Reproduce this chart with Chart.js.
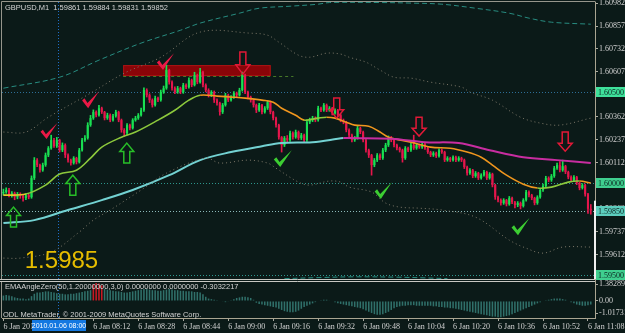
<!DOCTYPE html>
<html><head><meta charset="utf-8">
<script src="https://cdn.jsdelivr.net/npm/chart.js@4.4.1/dist/chart.umd.min.js"></script>
<style>html,body{margin:0;padding:0;background:#0b1a18;}canvas{display:block;}</style>
</head><body>
<canvas id="c" width="625" height="333" style="width:625px;height:333px"></canvas>
<script>
// ---------------- DATA ----------------
const symbolTitle = 'GBPUSD,M1  1.59861 1.59884 1.59831 1.59852';
const indicatorTitle = 'EMAAngleZero(50,1.20000000,3,0) 0.0000000 0.0000000 -0.3032217';
const copyrightText = 'ODL MetaTrader, \u00A9 2001-2009 MetaQuotes Software Corp.';
const bigLabel = '1.5985';
const firstOpen = 1.59946;
const closes = [
1.59952,1.59963,1.59935,1.59946,1.59924,1.59941,1.59930,1.59919,1.59935,1.59924,
1.60028,1.60126,1.60099,1.60071,1.60099,1.60153,1.60191,1.60235,1.60202,1.60235,
1.60180,1.60208,1.60153,1.60126,1.60110,1.60137,1.60115,1.60180,1.60235,1.60246,
1.60317,1.60355,1.60388,1.60371,1.60409,1.60388,1.60355,1.60371,1.60344,1.60366,
1.60388,1.60344,1.60290,1.60273,1.60317,1.60300,1.60344,1.60355,1.60371,1.60398,
1.60508,1.60480,1.60453,1.60426,1.60464,1.60453,1.60497,1.60518,1.60617,1.60551,
1.60518,1.60497,1.60518,1.60497,1.60535,1.60524,1.60562,1.60535,1.60589,1.60551,
1.60606,1.60535,1.60508,1.60480,1.60497,1.60453,1.60437,1.60388,1.60426,1.60480,
1.60453,1.60469,1.60491,1.60480,1.60508,1.60589,1.60497,1.60469,1.60453,1.60426,
1.60398,1.60426,1.60388,1.60409,1.60442,1.60388,1.60355,1.60317,1.60251,1.60208,
1.60246,1.60235,1.60273,1.60251,1.60279,1.60246,1.60262,1.60235,1.60333,1.60344,
1.60355,1.60344,1.60409,1.60398,1.60426,1.60398,1.60409,1.60382,1.60398,1.60371,
1.60344,1.60333,1.60290,1.60262,1.60235,1.60246,1.60300,1.60279,1.60235,1.60180,
1.60153,1.60099,1.60126,1.60153,1.60137,1.60180,1.60208,1.60246,1.60235,1.60208,
1.60191,1.60180,1.60137,1.60191,1.60180,1.60208,1.60191,1.60208,1.60197,1.60213,
1.60191,1.60170,1.60153,1.60164,1.60148,1.60180,1.60170,1.60126,1.60137,1.60126,
1.60142,1.60126,1.60137,1.60126,1.60088,1.60055,1.60071,1.60039,1.60055,1.60028,
1.60044,1.60061,1.60028,1.60050,1.59990,1.59924,1.59908,1.59892,1.59908,1.59886,
1.59919,1.59897,1.59881,1.59892,1.59876,1.59908,1.59952,1.59935,1.59919,1.59892,
1.59924,1.59963,1.59985,1.60028,1.60017,1.60039,1.60082,1.60099,1.60071,1.60093,
1.60061,1.60033,1.60017,1.60033,1.60001,1.59974,1.59990,1.59940,1.59861,1.59852];
const highs = [
1.59968,1.59975,1.59972,1.59955,1.59952,1.59950,1.59948,1.59936,1.59944,1.59940,
1.60040,1.60140,1.60135,1.60105,1.60110,1.60165,1.60200,1.60262,1.60245,1.60250,
1.60240,1.60220,1.60215,1.60160,1.60132,1.60145,1.60142,1.60190,1.60245,1.60260,
1.60330,1.60370,1.60400,1.60395,1.60425,1.60415,1.60392,1.60382,1.60378,1.60375,
1.60398,1.60393,1.60350,1.60298,1.60325,1.60322,1.60352,1.60365,1.60380,1.60410,
1.60520,1.60515,1.60488,1.60460,1.60475,1.60470,1.60508,1.60530,1.60644,1.60622,
1.60558,1.60525,1.60528,1.60524,1.60545,1.60542,1.60575,1.60568,1.60605,1.60595,
1.60627,1.60612,1.60542,1.60515,1.60505,1.60503,1.60460,1.60442,1.60435,1.60490,
1.60486,1.60478,1.60500,1.60497,1.60518,1.60606,1.60595,1.60503,1.60475,1.60458,
1.60432,1.60435,1.60430,1.60418,1.60450,1.60448,1.60393,1.60360,1.60322,1.60255,
1.60255,1.60260,1.60285,1.60280,1.60290,1.60285,1.60272,1.60268,1.60345,1.60355,
1.60365,1.60362,1.60420,1.60415,1.60435,1.60432,1.60418,1.60414,1.60406,1.60403,
1.60378,1.60350,1.60338,1.60296,1.60268,1.60255,1.60310,1.60306,1.60284,1.60240,
1.60186,1.60158,1.60135,1.60162,1.60160,1.60190,1.60218,1.60258,1.60255,1.60240,
1.60214,1.60197,1.60186,1.60200,1.60197,1.60218,1.60262,1.60216,1.60214,1.60222,
1.60218,1.60196,1.60175,1.60172,1.60170,1.60188,1.60186,1.60175,1.60145,1.60142,
1.60150,1.60148,1.60145,1.60142,1.60132,1.60093,1.60080,1.60076,1.60064,1.60060,
1.60052,1.60070,1.60066,1.60058,1.60055,1.59995,1.59930,1.59915,1.59916,1.59912,
1.59928,1.59925,1.59902,1.59900,1.59898,1.59916,1.59962,1.59958,1.59940,1.59924,
1.59932,1.59972,1.59995,1.60038,1.60035,1.60048,1.60092,1.60110,1.60118,1.60126,
1.60098,1.60066,1.60040,1.60042,1.60038,1.60006,1.59998,1.59995,1.59945,1.59884];
const lows = [
1.59935,1.59945,1.59925,1.59924,1.59910,1.59915,1.59918,1.59902,1.59910,1.59915,
1.59918,1.60020,1.60090,1.60060,1.60065,1.60092,1.60145,1.60185,1.60195,1.60195,
1.60170,1.60172,1.60140,1.60115,1.60099,1.60104,1.60105,1.60110,1.60175,1.60228,
1.60240,1.60310,1.60348,1.60362,1.60365,1.60380,1.60345,1.60348,1.60335,1.60338,
1.60360,1.60335,1.60278,1.60255,1.60265,1.60290,1.60295,1.60338,1.60348,1.60365,
1.60392,1.60470,1.60440,1.60415,1.60420,1.60445,1.60447,1.60490,1.60512,1.60540,
1.60508,1.60488,1.60490,1.60488,1.60490,1.60515,1.60518,1.60526,1.60530,1.60542,
1.60545,1.60525,1.60498,1.60470,1.60472,1.60440,1.60425,1.60371,1.60380,1.60420,
1.60445,1.60447,1.60462,1.60472,1.60475,1.60502,1.60488,1.60460,1.60442,1.60415,
1.60385,1.60392,1.60378,1.60382,1.60402,1.60378,1.60345,1.60305,1.60240,1.60170,
1.60200,1.60225,1.60228,1.60240,1.60245,1.60238,1.60238,1.60225,1.60228,1.60325,
1.60336,1.60335,1.60338,1.60390,1.60392,1.60390,1.60392,1.60372,1.60376,1.60362,
1.60335,1.60324,1.60280,1.60252,1.60225,1.60228,1.60240,1.60270,1.60225,1.60170,
1.60140,1.60044,1.60090,1.60118,1.60128,1.60130,1.60172,1.60200,1.60226,1.60198,
1.60182,1.60170,1.60115,1.60130,1.60172,1.60174,1.60184,1.60185,1.60190,1.60190,
1.60184,1.60162,1.60145,1.60146,1.60140,1.60142,1.60162,1.60118,1.60120,1.60118,
1.60120,1.60118,1.60120,1.60118,1.60080,1.60044,1.60048,1.60030,1.60032,1.60020,
1.60022,1.60038,1.60020,1.60022,1.59980,1.59912,1.59898,1.59880,1.59885,1.59876,
1.59880,1.59888,1.59866,1.59872,1.59860,1.59870,1.59902,1.59926,1.59910,1.59882,
1.59885,1.59918,1.59956,1.59978,1.60008,1.60010,1.60032,1.60075,1.60062,1.60065,
1.60052,1.60024,1.60008,1.60010,1.59992,1.59964,1.59968,1.59930,1.59835,1.59831];
const angleValues = [
0.45,0.5,0.45,0.4,0.3,0.25,0.2,0.2,0.15,0.2,
0.4,0.6,0.7,0.7,0.75,0.8,0.8,0.75,0.7,0.65,
0.6,0.6,0.55,0.55,0.6,0.6,0.65,0.7,0.75,0.8,
0.85,0.9,1.4,1.5,1.45,1.3,1.0,0.95,0.9,0.85,
0.8,0.8,0.75,0.7,0.7,0.75,0.8,0.85,0.9,0.95,
1.0,1.0,0.95,0.9,0.9,0.85,0.85,0.9,0.95,1.0,
0.95,0.9,0.9,0.85,0.85,0.8,0.8,0.8,0.75,0.75,
0.7,0.55,0.35,0.2,0.15,0.1,0.05,0.0,-0.05,-0.1,
-0.05,0.05,0.15,0.25,0.3,0.35,0.35,0.3,0.25,0.1,
-0.15,-0.25,-0.3,-0.35,-0.4,-0.45,-0.5,-0.55,-0.65,-0.75,
-0.85,-0.9,-0.95,-0.95,-0.9,-0.8,-0.65,-0.5,-0.4,-0.3,
-0.2,-0.1,0.0,0.05,0.1,0.1,0.05,0.0,-0.1,-0.2,
-0.25,-0.3,-0.35,-0.4,-0.45,-0.5,-0.55,-0.6,-0.7,-0.8,
-0.9,-1.0,-1.1,-1.15,-1.15,-1.1,-1.0,-0.9,-0.75,-0.6,
-0.5,-0.45,-0.4,-0.4,-0.35,-0.35,-0.35,-0.4,-0.4,-0.4,
-0.4,-0.4,-0.4,-0.45,-0.45,-0.5,-0.5,-0.55,-0.55,-0.6,
-0.6,-0.65,-0.7,-0.75,-0.8,-0.85,-0.9,-0.95,-1.0,-1.05,
-1.1,-1.15,-1.2,-1.25,-1.3,-1.3,-1.35,-1.35,-1.3,-1.25,
-1.2,-1.1,-1.0,-0.9,-0.8,-0.7,-0.6,-0.5,-0.4,-0.3,
-0.2,-0.1,0.0,0.05,0.1,0.15,0.2,0.2,0.2,0.15,
0.1,0.0,-0.1,-0.2,-0.3,-0.35,-0.4,-0.4,-0.35,-0.3];
const angleThreshold = 1.2;

const emaFastIdx = [0,8,15,20,26,31,35,42,47,55,61,66,70,76,82,86,92,96,99,104,107,112,115,118,122,125,130,134,137,145,152,159,165,170,174,179,185,190,195,201,205,209];
const emaFastVal = [1.59935,1.59941,1.59990,1.60050,1.60071,1.60137,1.60197,1.60251,1.60279,1.60344,1.60398,1.60453,1.60480,1.60475,1.60469,1.60464,1.60453,1.60442,1.60409,1.60371,1.60344,1.60355,1.60360,1.60355,1.60333,1.60317,1.60311,1.60279,1.60251,1.60224,1.60197,1.60191,1.60170,1.60142,1.60099,1.60044,1.59995,1.59974,1.59979,1.60006,1.60012,1.60001];
const emaSlowIdx = [0,11,23,35,46,59,70,81,92,99,110,121,123,138,150,162,173,185,197,209];
const emaSlowVal = [1.59783,1.59799,1.59854,1.59908,1.59963,1.60044,1.60126,1.60170,1.60202,1.60219,1.60224,1.60246,1.60246,1.60243,1.60224,1.60219,1.60180,1.60142,1.60126,1.60110];
const outerUpIdx = [0,20,34,49,63,70,84,91,102,112,116,134,145,156,168,180,187,195,209];
const outerUpVal = [1.60518,1.60578,1.60671,1.60764,1.60834,1.60873,1.60927,1.60954,1.60965,1.60976,1.60985,1.60985,1.60982,1.60976,1.60954,1.60927,1.60900,1.60878,1.60867];
const innerUpIdx = [0,8,16,31,43,56,70,88,94,98,105,109,115,120,123,129,134,139,145,152,163,166,174,184,191,198,209];
const innerUpVal = [1.60279,1.60279,1.60360,1.60491,1.60600,1.60687,1.60824,1.60818,1.60807,1.60769,1.60698,1.60687,1.60709,1.60704,1.60687,1.60660,1.60617,1.60578,1.60573,1.60551,1.60524,1.60497,1.60453,1.60360,1.60328,1.60317,1.60355];
const innerLoIdx = [0,6,17,27,32,38,49,58,72,77,87,94,97,105,109,116,120,123,131,136,141,148,156,168,180,186,192,199,209];
const innerLoVal = [1.59592,1.59592,1.59625,1.59734,1.59799,1.59854,1.59963,1.60055,1.60137,1.60110,1.60126,1.60110,1.60082,1.60006,1.59990,1.60012,1.60006,1.59979,1.59952,1.59892,1.59870,1.59864,1.59854,1.59815,1.59690,1.59646,1.59619,1.59652,1.59652];
const outerLoIdx = [100,113,125,140,150,158];
const outerLoVal = [1.59480,1.59486,1.59490,1.59488,1.59484,1.59480];

const priceTicks = [1.60982,1.60857,1.60732,1.60607,1.60482,1.60362,1.60237,1.60112,1.59987,1.59862,1.59737,1.59612,1.59487];
const angleTicks = [1.382898,0,-1.017313];
const angleTickLabels = ['1.382898','0.00','-1.017313'];
const timeTickIdx = [0,32,48,64,80,96,112,128,144,160,176,192,208];
const timeTickLabels = ['6 Jan 2010','6 Jan 08:12','6 Jan 08:28','6 Jan 08:44','6 Jan 09:00','6 Jan 09:16','6 Jan 09:32','6 Jan 09:48','6 Jan 10:04','6 Jan 10:20','6 Jan 10:36','6 Jan 10:52','6 Jan 11:08'];
const crossIdx = 20;
const crossLabel = '2010.01.06 08:00';
const hLevels = [1.60500,1.60000,1.59850,1.59500];
const hLevelLabels = ['1.60500','1.60000','1.59850','1.59500'];

// drawn objects (bar index, price)
const zoneFrom = 42.6, zoneTo = 95.1, zoneTop = 1.60644, zoneBottom = 1.60584;
const zoneLineTo = 103.2, zoneLinePrice = 1.60587;
const downArrowIdx = [85.2,118.6,147.9,199.9];
const downArrowTop = [1.60715,1.60464,1.60360,1.60279];
const downArrowTip = [1.60595,1.60355,1.60257,1.60175];
const upArrowIdx = [3.6,24.7,43.9];
const upArrowTip = [1.59870,1.60044,1.60219];
const upArrowBase = [1.59761,1.59935,1.60110];
const redCheckFrom = [13.2,28,54.6], redCheckTo = [19.2,34,60.7];
const redCheckTop = [1.60328,1.60502,1.60709], redCheckBottom = [1.60241,1.60409,1.60617];
const greenCheckFrom = [96.2,132.1,180.8], greenCheckTo = [102.6,138.2,187.2];
const greenCheckTop = [1.60180,1.60006,1.59810], greenCheckBottom = [1.60088,1.59914,1.59717];
const bigLabelIdx = 7.6, bigLabelPrice = 1.59537;
const whiteBarTop = 1.59905;

// ---------------- BUILD ----------------
const NCAT = 211;
const categories = [];
for (let m = 0; m < NCAT; m++) { const t = 7*60 + 40 + m; categories.push(String(Math.floor(t/60)).padStart(2,'0') + ':' + String(t%60).padStart(2,'0')); }
const opens = closes.map((c, i) => i === 0 ? firstOpen : closes[i-1]);
const bodies = closes.map((c, i) => [opens[i], c]);
const wicks = closes.map((c, i) => [lows[i], highs[i]]);
function pts(idx, vals) { return idx.map((k, j) => ({ x: categories[k], y: vals[j] })); }

const BG = '#0b1a18';
const UP = '#19e052', DN = '#e5164c';
const candleColor = ctx => { const i = ctx.dataIndex; return closes[i] >= opens[i] ? UP : DN; };

const lineBase = { type: 'line', yAxisID: 'y', pointRadius: 0, tension: 0.35, order: 0 };

const overlay = {
  id: 'overlay',
  beforeDraw(chart) { const c = chart.ctx; c.save(); c.fillStyle = BG; c.fillRect(0, 0, chart.width, chart.height); c.restore(); },
  beforeDatasetsDraw(chart) {
    const {ctx, scales: {x, y, y2}} = chart;
    ctx.save();
    const rx0 = x.getPixelForValue(zoneFrom), rx1 = x.getPixelForValue(zoneTo);
    const ry0 = y.getPixelForValue(zoneTop), ry1 = y.getPixelForValue(zoneBottom);
    ctx.fillStyle = 'rgb(138,4,8)';
    ctx.fillRect(rx0, ry0, rx1 - rx0, ry1 - ry0);
    ctx.strokeStyle = 'rgb(170,20,20)'; ctx.lineWidth = 1;
    ctx.strokeRect(rx0 + 0.5, ry0 + 0.5, rx1 - rx0 - 1, ry1 - ry0 - 1);
    ctx.strokeStyle = 'rgb(70,120,40)'; ctx.setLineDash([3, 3]);
    const zy = Math.round(y.getPixelForValue(zoneLinePrice)) + 0.5;
    ctx.beginPath(); ctx.moveTo(rx0, zy); ctx.lineTo(x.getPixelForValue(zoneLineTo), zy); ctx.stroke();
    const lvlColors = ['rgb(45,110,150)', 'rgb(45,150,140)', 'rgb(140,185,185)', 'rgb(45,150,140)'];
    hLevels.forEach((v, k) => {
      const py = Math.round(y.getPixelForValue(v)) + 0.5;
      ctx.strokeStyle = lvlColors[k]; ctx.setLineDash([1, 2]);
      ctx.beginPath(); ctx.moveTo(x.left, py); ctx.lineTo(x.right, py); ctx.stroke();
    });
    const cx = Math.round(x.getPixelForValue(crossIdx)) - 1.5;
    ctx.strokeStyle = 'rgb(30,110,200)'; ctx.setLineDash([1, 2]);
    ctx.beginPath(); ctx.moveTo(cx, y.top); ctx.lineTo(cx, y2.bottom); ctx.stroke();
    ctx.restore();
  },
  afterDatasetsDraw(chart) {
    const {ctx, scales: {x, y}} = chart;
    ctx.save();
    ctx.lineWidth = 1.5; ctx.setLineDash([]);
    ctx.strokeStyle = 'rgb(225,25,55)';
    downArrowIdx.forEach((k, j) => {
      const cx = x.getPixelForValue(k), t = y.getPixelForValue(downArrowTop[j]), b = y.getPixelForValue(downArrowTip[j]);
      const hh = (b - t) * 0.42, sw = 3, hw = 7;
      ctx.beginPath();
      ctx.moveTo(cx - sw, t); ctx.lineTo(cx + sw, t); ctx.lineTo(cx + sw, b - hh); ctx.lineTo(cx + hw, b - hh);
      ctx.lineTo(cx, b); ctx.lineTo(cx - hw, b - hh); ctx.lineTo(cx - sw, b - hh); ctx.closePath(); ctx.stroke();
    });
    ctx.strokeStyle = 'rgb(40,190,40)';
    upArrowIdx.forEach((k, j) => {
      const cx = x.getPixelForValue(k), t = y.getPixelForValue(upArrowTip[j]), b = y.getPixelForValue(upArrowBase[j]);
      const hh = (b - t) * 0.42, sw = 3, hw = 7;
      ctx.beginPath();
      ctx.moveTo(cx - sw, b); ctx.lineTo(cx + sw, b); ctx.lineTo(cx + sw, t + hh); ctx.lineTo(cx + hw, t + hh);
      ctx.lineTo(cx, t); ctx.lineTo(cx - hw, t + hh); ctx.lineTo(cx - sw, t + hh); ctx.closePath(); ctx.stroke();
    });
    function check(x0, y0, x1, y1, color) {
      const w = x1 - x0, h = y1 - y0;
      ctx.fillStyle = color;
      ctx.beginPath();
      ctx.moveTo(x0, y0 + 0.55 * h);
      ctx.lineTo(x0 + 0.14 * w, y0 + 0.42 * h);
      ctx.lineTo(x0 + 0.32 * w, y0 + 0.70 * h);
      ctx.lineTo(x1, y0);
      ctx.lineTo(x0 + 0.36 * w, y1);
      ctx.closePath(); ctx.fill();
    }
    redCheckFrom.forEach((k, j) => check(x.getPixelForValue(k), y.getPixelForValue(redCheckTop[j]), x.getPixelForValue(redCheckTo[j]), y.getPixelForValue(redCheckBottom[j]), 'rgb(235,25,70)'));
    greenCheckFrom.forEach((k, j) => check(x.getPixelForValue(k), y.getPixelForValue(greenCheckTop[j]), x.getPixelForValue(greenCheckTo[j]), y.getPixelForValue(greenCheckBottom[j]), 'rgb(60,205,50)'));
    ctx.restore();
  },
  afterDraw(chart) {
    const {ctx, scales: {x, y, y2}} = chart;
    ctx.save();
    ctx.setLineDash([]);
    ctx.strokeStyle = 'rgb(150,150,140)'; ctx.lineWidth = 1;
    ctx.beginPath();
    ctx.moveTo(1.5, y.bottom); ctx.lineTo(1.5, 1.5); ctx.lineTo(x.right + 0.5, 1.5);
    ctx.moveTo(1.5, y2.top + 2); ctx.lineTo(1.5, y2.bottom);
    ctx.stroke();
    ctx.strokeStyle = 'rgb(200,200,195)';
    ctx.beginPath(); ctx.moveTo(0, Math.round(y.bottom) + 0.5); ctx.lineTo(x.right, Math.round(y.bottom) + 0.5);
    ctx.moveTo(0, Math.round(y.bottom) + 2.5); ctx.lineTo(x.right, Math.round(y.bottom) + 2.5); ctx.stroke();
    ctx.fillStyle = '#f0f0f0';
    ctx.fillRect(x.right - 1, y.getPixelForValue(whiteBarTop), 2, y.bottom - y.getPixelForValue(whiteBarTop));
    ctx.textBaseline = 'middle'; ctx.textAlign = 'left';
    ctx.fillStyle = '#d4d4d4'; ctx.font = '7.5px "Liberation Sans"';
    ctx.fillText(symbolTitle, 5, 7.5);
    ctx.fillText(indicatorTitle, 5, y2.top + 8);
    ctx.fillText(copyrightText, 3, y2.bottom - 3);
    ctx.fillStyle = '#e6bd00'; ctx.font = '24px "Liberation Sans"'; ctx.textBaseline = 'alphabetic';
    ctx.fillText(bigLabel, x.getPixelForValue(bigLabelIdx), y.getPixelForValue(bigLabelPrice));
    const boxColors = ['#3fe29c', '#3fcf8f', '#5ccdbd', '#3fcf8f'];
    ctx.font = '8px "Liberation Serif"'; ctx.textBaseline = 'middle';
    hLevels.forEach((v, k) => {
      const py = Math.round(y.getPixelForValue(v));
      ctx.fillStyle = boxColors[k];
      ctx.fillRect(y.left + 1, py - 5, 29, 10);
      ctx.fillStyle = '#0b2420';
      ctx.fillText(hLevelLabels[k], y.left + 3, py + 0.5);
    });
    const cx = Math.round(x.getPixelForValue(crossIdx)) - 1;
    ctx.font = '7px "Liberation Sans"';
    const tw = 54;
    ctx.fillStyle = 'rgb(20,120,225)';
    ctx.fillRect(cx - tw / 2, y2.bottom + 2, tw, 11);
    ctx.fillStyle = '#ffffff'; ctx.textAlign = 'center';
    ctx.fillText(crossLabel, cx, y2.bottom + 8);
    ctx.restore();
  }
};

Chart.defaults.font.family = 'Liberation Sans';
new Chart(document.getElementById('c'), {
  type: 'bar',
  data: {
    labels: categories,
    datasets: [
      Object.assign({}, lineBase, { label: 'outerUp', data: pts(outerUpIdx, outerUpVal), borderColor: 'rgb(40,140,128)', borderWidth: 1, borderDash: [5, 3] }),
      Object.assign({}, lineBase, { label: 'outerLo', data: pts(outerLoIdx, outerLoVal), borderColor: 'rgb(40,140,128)', borderWidth: 1, borderDash: [5, 3] }),
      Object.assign({}, lineBase, { label: 'innerUp', data: pts(innerUpIdx, innerUpVal), borderColor: 'rgb(125,120,105)', borderWidth: 1, borderDash: [1, 3] }),
      Object.assign({}, lineBase, { label: 'innerLo', data: pts(innerLoIdx, innerLoVal), borderColor: 'rgb(125,120,105)', borderWidth: 1, borderDash: [1, 3] }),
      Object.assign({}, lineBase, { label: 'emaSlow', data: pts(emaSlowIdx, emaSlowVal), borderWidth: 2, borderColor: 'rgb(115,210,210)',
        segment: { borderColor: c => c.p1.parsed.y > c.p0.parsed.y ? 'rgb(115,210,210)' : 'rgb(200,45,160)' } }),
      Object.assign({}, lineBase, { label: 'emaFast', data: pts(emaFastIdx, emaFastVal), borderWidth: 1.6, borderColor: 'rgb(140,200,60)',
        segment: { borderColor: c => c.p0DataIndex === 0 ? 'rgb(230,200,40)' : (c.p1.parsed.y > c.p0.parsed.y ? 'rgb(140,200,60)' : 'rgb(240,150,30)') } }),
      { type: 'bar', label: 'bodies', data: bodies, yAxisID: 'y', grouped: false, order: 1, backgroundColor: candleColor, borderWidth: 0, barPercentage: 0.75, categoryPercentage: 1, minBarLength: 1 },
      { type: 'bar', label: 'wicks', data: wicks, yAxisID: 'y', grouped: false, order: 2, backgroundColor: candleColor, borderWidth: 0, barThickness: 1 },
      { type: 'bar', label: 'angle', data: angleValues, yAxisID: 'y2', grouped: false, order: 3, borderWidth: 0, barPercentage: 0.55, categoryPercentage: 1,
        backgroundColor: c => angleValues[c.dataIndex] > angleThreshold ? 'rgb(200,25,35)' : 'rgb(48,112,106)' }
    ]
  },
  options: {
    responsive: false, animation: false, devicePixelRatio: 1,
    layout: { padding: { left: 2, top: 2, right: 0, bottom: 0 } },
    plugins: { legend: { display: false }, tooltip: { enabled: false } },
    scales: {
      x: {
        type: 'category', offset: true,
        grid: { offset: false, drawOnChartArea: false, drawTicks: true, tickLength: 3,
          color: c => timeTickIdx.includes(c.index) ? 'rgb(170,170,160)' : 'rgba(0,0,0,0)' },
        border: { display: true, color: 'rgb(170,165,145)' },
        ticks: { autoSkip: false, maxRotation: 0, minRotation: 0, align: 'start', padding: 1, color: '#d0d0d0',
          font: { family: 'Liberation Serif', size: 8 },
          callback: (v, i) => { const k = timeTickIdx.indexOf(i); return k >= 0 ? timeTickLabels[k] : ''; } },
        afterFit: s => { s.height = 15; s.paddingLeft = 0; s.paddingRight = 0; }
      },
      y: {
        type: 'linear', position: 'right', stack: 'panes', stackWeight: 277, min: 1.59478, max: 1.60988,
        afterBuildTicks: s => { s.ticks = priceTicks.map(v => ({ value: v })); },
        afterFit: s => { s.width = 30; s.paddingTop = 0; s.paddingBottom = 0; },
        grid: { drawOnChartArea: false, tickLength: 3, color: 'rgb(170,170,160)' },
        border: { color: 'rgb(170,165,145)' },
        ticks: { autoSkip: false, padding: 1, color: '#d0d0d0', font: { family: 'Liberation Serif', size: 8 }, callback: v => v.toFixed(5) }
      },
      y2: {
        type: 'linear', position: 'right', stack: 'panes', stackWeight: 39, min: -1.42, max: 1.83,
        afterBuildTicks: s => { s.ticks = angleTicks.map(v => ({ value: v })); },
        afterFit: s => { s.width = 30; s.paddingTop = 0; s.paddingBottom = 0; },
        grid: { drawOnChartArea: false, tickLength: 3, color: 'rgb(170,170,160)' },
        border: { color: 'rgb(170,165,145)' },
        ticks: { autoSkip: false, padding: 1, color: '#d0d0d0', font: { family: 'Liberation Serif', size: 8 },
          callback: (v, i) => angleTickLabels[i] }
      }
    }
  },
  plugins: [overlay]
});
</script>
</body></html>
